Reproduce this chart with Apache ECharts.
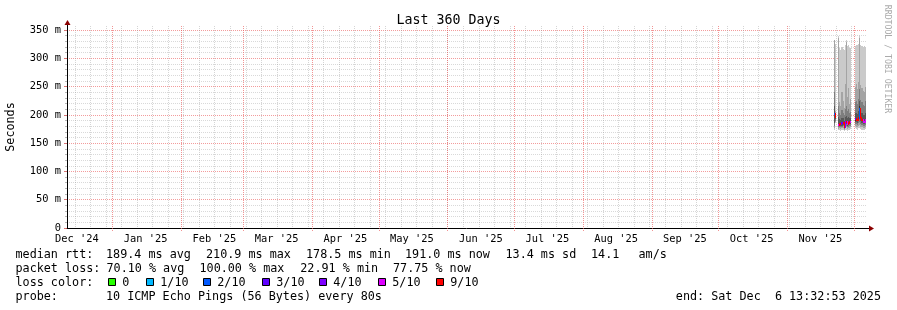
<!DOCTYPE html>
<html><head><meta charset="utf-8">
<script src="https://cdn.jsdelivr.net/npm/echarts@6/dist/echarts.min.js"></script>
<style>html,body{margin:0;padding:0;background:#fff}#main{width:897px;height:310px}</style>
</head><body><div id="main"></div>
<script>
// ---------- data ----------
const titleText = 'Last 360 Days';
const rangeStart = '2024-12-11 13:32:53';
const rangeEnd = '2025-12-06 13:32:53';
const yMinVal = 0, yMaxVal = 350, yStep = 50;
const monthStarts = ['2025-01-01','2025-02-01','2025-03-01','2025-04-01','2025-05-01','2025-06-01','2025-07-01','2025-08-01','2025-09-01','2025-10-01','2025-11-01','2025-12-01'];
const monthLabelDates = ['2024-12-16','2025-01-16','2025-02-16','2025-03-16','2025-04-16','2025-05-16','2025-06-16','2025-07-16','2025-08-16','2025-09-16','2025-10-16','2025-11-16'];
const monthLabels = ["Dec '24","Jan '25","Feb '25","Mar '25","Apr '25","May '25","Jun '25","Jul '25","Aug '25","Sep '25","Oct '25","Nov '25"];
const firstWeekStart = '2024-12-15';
const stepHours = 12;
const colTimes = ['2025-11-22 12:00','2025-11-23 00:00','2025-11-24 12:00','2025-11-25 00:00','2025-11-25 12:00','2025-11-26 00:00','2025-11-26 12:00','2025-11-27 00:00','2025-11-27 12:00','2025-11-28 00:00','2025-11-28 12:00','2025-11-29 00:00','2025-11-29 12:00','2025-11-30 00:00','2025-12-02 00:00','2025-12-02 12:00','2025-12-03 00:00','2025-12-03 12:00','2025-12-04 00:00','2025-12-04 12:00','2025-12-05 00:00','2025-12-05 12:00','2025-12-06 00:00','2025-12-06 12:00'];
const ping1  = [174,185,173,174,172,173,174,172,173,174,172,173,174,175,176,175,174,176,177,175,174,173,173,175];
const ping2  = [176,188,175,177,175,176,177,174,177,178,175,176,177,178,180,179,178,180,182,179,178,177,177,179];
const ping3  = [180,190,178,179,178,179,180,175,180,181,178,179,180,181,184,183,182,185,188,184,182,180,180,182];
const ping4  = [186,192,180,181,180,181,182,176,183,184,181,182,183,184,188,187,186,190,195,189,186,184,183,186];
const ping5  = [199,194,181,183,182,183,184,178,185,186,183,184,185,186,190,190,189,193,205,192,189,186,185,189];
const ping6  = [203,198,184,186,185,187,188,180,189,190,186,187,188,189,194,193,192,197,215,196,193,189,188,193];
const ping7  = [215,200,196,193,191,195,194,190,197,198,194,196,194,195,203,204,202,207,225,205,203,200,199,204];
const ping8  = [240,203,215,203,200,208,204,199,210,215,206,210,203,205,222,225,220,228,245,226,222,218,216,224];
const ping9  = [333,206,335,222,215,240,225,212,255,328,232,248,220,228,250,255,245,258,336,252,248,242,240,250];
const ping10 = [333,326,339,318,314,320,316,315,324,332,322,323,318,318,322,324,323,325,341,323,322,320,321,320];
const medianRtt = [201,196,182.5,184.5,183.5,185,186,179,187,188,184.5,185.5,186.5,187.5,192,191.5,190.5,195,210,194,191,187.5,186.5,191];
const lossPct = [25,95,55,95,92,35,90,95,45,92,55,90,95,60,30,92,90,95,22.91,92,92,55,60,77.75];
const lossThresholds = [0,1,2,3,4,5,9];
const lossLabels = ['0','1/10','2/10','3/10','4/10','5/10','9/10'];
const lossColors = ['#26ff00','#00b8ff','#0059ff','#5e00ff','#7e00ff','#dd00ff','#ff0000'];
const smokeColors = ['#cacaca','#a4a4a4','#7e7e7e','#585858','#323232'];
const rttItems = ['median rtt:','189.4 ms avg','210.9 ms max','178.5 ms min','191.0 ms now','13.4 ms sd','14.1','am/s'];
const lossItems = ['packet loss:','70.10 % avg','100.00 % max','22.91 % min','77.75 % now'];
const lossTitle = 'loss color:';
const probeItems = ['probe:','10 ICMP Echo Pings (56 Bytes) every 80s'];
const endLine = 'end: Sat Dec  6 13:32:53 2025';
const yAxisName = 'Seconds';
const watermark = 'RRDTOOL / TOBI OETIKER';

// ---------- layout (pixels, not data) ----------
const rttX = [15.5,106,206,306,405,505.5,591,638.5];
const lossX = [15.5,106.5,199.5,300.3,393];
const probeX = [15.5,106];
const swatchX = [108,146,203,262,319,378,436];
const lineY = [255, 268.5, 282.5, 296.5];

// ---------- helpers ----------
function toMs(s){
  const m = s.match(/^(\d{4})-(\d{2})-(\d{2})(?:[ T](\d{2}):(\d{2})(?::(\d{2}))?)?$/);
  return new Date(+m[1], m[2]-1, +m[3], +(m[4]||0), +(m[5]||0), +(m[6]||0)).getTime();
}
const stepMs = stepHours * 3600 * 1000;
const xMin = toMs(rangeStart), xMax = toMs(rangeEnd);
function lossColor(p){
  const lost = p / 10; let idx = 0;
  for (let k = 0; k < lossThresholds.length; k++) if (lost >= lossThresholds[k]) idx = k;
  return lossColors[idx];
}
const pings = [ping1,ping2,ping3,ping4,ping5,ping6,ping7,ping8,ping9,ping10];
const smokeRows = colTimes.map((t,i)=>[toMs(t)].concat(pings.map(p=>p[i])));
const medianRows = colTimes.map((t,i)=>[toMs(t), medianRtt[i], lossPct[i]]);
const monthRows = monthStarts.map(d=>[toMs(d), 0]).filter(r=>r[0]>xMin && r[0]<xMax);
const weekRows = [];
{ const dt = new Date(toMs(firstWeekStart));
  while (dt.getTime() < xMax) { weekRows.push([dt.getTime(), 0]); dt.setDate(dt.getDate()+7); } }
const labelMap = {};
monthLabelDates.forEach((d,i)=>{ labelMap[toMs(d)] = monthLabels[i]; });

const FONT = '"DejaVu Sans Mono", monospace';
const legendFont = '11.75px ' + FONT;

function renderSmoke(params, api){
  const tEnd = api.value(0), tStart = tEnd - stepMs;
  const kids = [];
  for (let b = 0; b < 5; b++){
    const lo = api.value(1+b), hi = api.value(10-b);
    if (lo == null || hi == null || isNaN(lo) || isNaN(hi)) continue;
    const a = api.coord([tStart, hi]), c = api.coord([tEnd, lo]);
    const x0 = Math.round(a[0]), x1 = Math.max(Math.round(c[0]), x0+1);
    const y0 = Math.round(a[1]), y1 = Math.round(c[1]);
    kids.push({type:'rect', shape:{x:x0, y:y0, width:x1-x0, height:Math.max(1,y1-y0)}, style:{fill:smokeColors[b]}});
  }
  return {type:'group', children:kids};
}
function renderMedian(params, api){
  const i = params.dataIndex;
  const tEnd = api.value(0), tStart = tEnd - stepMs, v = api.value(1), loss = api.value(2);
  const color = lossColor(loss);
  const a = api.coord([tStart, v]), c = api.coord([tEnd, v]);
  const x0 = Math.round(a[0]), x1 = Math.max(Math.round(c[0]), x0+1);
  const y = Math.round(a[1]);
  const kids = [{type:'rect', shape:{x:x0, y:y-1, width:x1-x0, height:2}, style:{fill:color}}];
  if (i > 0 && medianRows[i-1][0] === tStart){
    const p = api.coord([tStart, medianRows[i-1][1]]); const yp = Math.round(p[1]);
    kids.push({type:'rect', shape:{x:x0, y:Math.min(yp,y)-1, width:1, height:Math.abs(yp-y)+2}, style:{fill:color}});
  }
  return {type:'group', children:kids};
}
function gridRender(color, below){
  return function(params, api){
    const t = api.value(0);
    const b = api.coord([t, yMinVal]), top = api.coord([t, yMaxVal]);
    const x = Math.round(b[0]) + 0.5;
    return {type:'line', shape:{x1:x, y1:top[1]-4, x2:x, y2:b[1]+below}, style:{stroke:color, lineWidth:1, lineDash:[1,1]}};
  };
}

// ---------- legend graphics ----------
const graphics = [];
function txt(s, x, y){ return {type:'text', x:x, y:y, style:{text:s, font:legendFont, fill:'#000', align:'left', verticalAlign:'middle'}}; }
rttItems.forEach((s,i)=>graphics.push(txt(s, rttX[i], lineY[0])));
lossItems.forEach((s,i)=>graphics.push(txt(s, lossX[i], lineY[1])));
graphics.push(txt(lossTitle, 15.5, lineY[2]));
lossLabels.forEach((lab,i)=>{
  graphics.push({type:'rect', shape:{x:swatchX[i]+0.5, y:278.5, width:7, height:7}, style:{fill:lossColors[i], stroke:'#000', lineWidth:1}});
  graphics.push(txt(lab, swatchX[i]+14.3, lineY[2]));
});
probeItems.forEach((s,i)=>graphics.push(txt(s, probeX[i], lineY[3])));
graphics.push({type:'text', x:881, y:lineY[3], style:{text:endLine, font:legendFont, fill:'#000', align:'right', verticalAlign:'middle'}});
graphics.push({type:'text', x:11, y:127, rotation:Math.PI/2, style:{text:yAxisName, font:legendFont, fill:'#000', align:'center', verticalAlign:'middle'}});
graphics.push({type:'text', x:887, y:59, rotation:-Math.PI/2, style:{text:watermark, font:'8.2px ' + FONT, fill:'#aaaaaa', align:'center', verticalAlign:'middle'}});
// axis arrows
graphics.push({type:'line', shape:{x1:67.5, y1:30, x2:67.5, y2:24}, style:{stroke:'#000', lineWidth:1}});
graphics.push({type:'polygon', shape:{points:[[64.5,25],[70.5,25],[67.5,20]]}, style:{fill:'#8b0000'}});
graphics.push({type:'line', shape:{x1:866, y1:228.5, x2:870, y2:228.5}, style:{stroke:'#000', lineWidth:1}});
graphics.push({type:'polygon', shape:{points:[[869,225.5],[869,231.5],[874,228.5]]}, style:{fill:'#8b0000'}});

const chart = echarts.init(document.getElementById('main'), null, {renderer:'canvas'});
chart.setOption({
  animation:false,
  backgroundColor:'#ffffff',
  title:{text:titleText, left:'center', top:9, textStyle:{fontFamily:FONT, fontSize:13.3, fontWeight:'normal', color:'#000'}},
  grid:{left:67, right:31, top:30, bottom:82, containLabel:false},
  xAxis:{type:'value', min:xMin, max:xMax, scale:true,
    axisLine:{show:true, lineStyle:{color:'#000', width:1}},
    axisTick:{show:false},
    splitLine:{show:false},
    axisLabel:{show:true, customValues:monthLabelDates.map(toMs), formatter:(v)=>labelMap[v]||'', fontFamily:FONT, fontSize:10.4, color:'#000', margin:6, hideOverlap:false}
  },
  yAxis:{type:'value', min:yMinVal, max:yMaxVal, interval:yStep,
    axisLine:{show:true, lineStyle:{color:'#000', width:1}},
    axisTick:{show:true, length:3, lineStyle:{color:'rgba(200,60,60,0.7)'}},
    minorTick:{show:true, splitNumber:5, length:2, lineStyle:{color:'#b8b8b8'}},
    splitLine:{show:true, lineStyle:{color:'rgba(235,90,90,0.6)', type:[1,1], width:1}},
    minorSplitLine:{show:true, lineStyle:{color:'rgba(150,150,150,0.36)', type:[1,1], width:1}},
    axisLabel:{formatter:(v)=> v===0 ? '0' : v + ' m', fontFamily:FONT, fontSize:10.4, color:'#000', margin:6}
  },
  series:[
    {type:'custom', name:'weeks', data:weekRows, renderItem:gridRender('rgba(150,150,150,0.4)', 0), z:1, silent:true, encode:{x:0,y:1}},
    {type:'custom', name:'months', data:monthRows, renderItem:gridRender('rgba(235,90,90,0.65)', 3), z:1, silent:true, encode:{x:0,y:1}},
    {type:'custom', name:'smoke', data:smokeRows, renderItem:renderSmoke, z:2, silent:true, encode:{x:0,y:1}},
    {type:'custom', name:'median', data:medianRows, renderItem:renderMedian, z:3, silent:true, encode:{x:0,y:1}}
  ],
  graphic:{elements:graphics}
});
</script></body></html>
